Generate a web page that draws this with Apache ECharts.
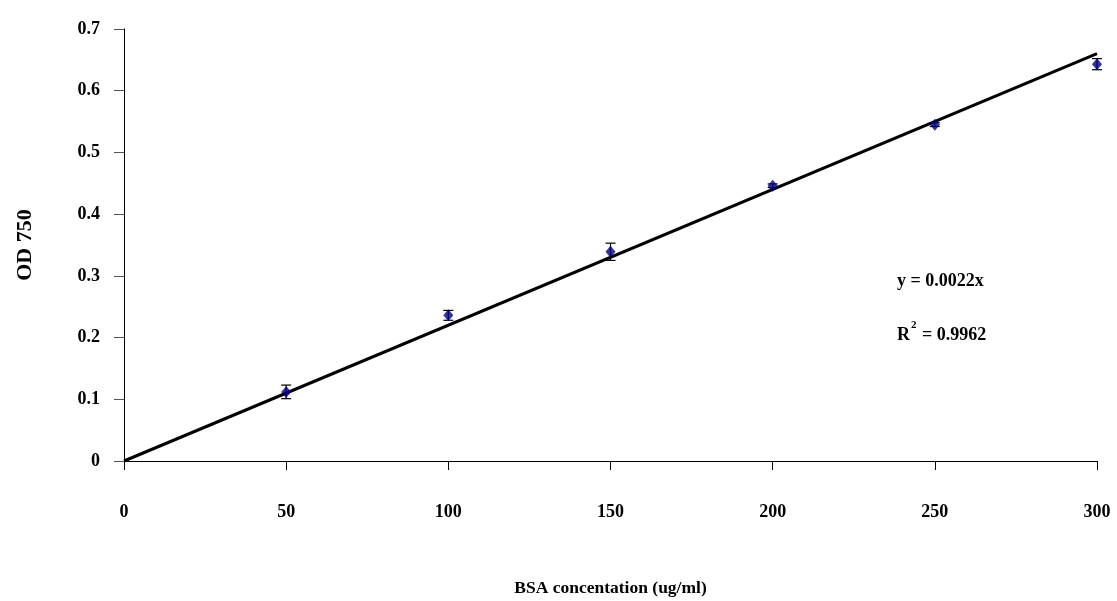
<!DOCTYPE html>
<html>
<head>
<meta charset="utf-8">
<script src="https://cdn.jsdelivr.net/npm/echarts@6/dist/echarts.min.js"></script>
<style>
  html, body { margin: 0; padding: 0; background: #fff; }
  #chart { width: 1117px; height: 601px; }
</style>
</head>
<body>
<div id="chart"></div>
<script>
// BSA standard curve: concentration vs. absorbance at 750 nm
const concentrations = [50, 100, 150, 200, 250, 300];
const odMeans = [0.112, 0.236, 0.339, 0.446, 0.545, 0.643];
const odErrors = [0.011, 0.008, 0.014, 0.003, 0.003, 0.009];
const slope = 0.0022;
const fitRange = [0, 300];
const xTicks = [0, 50, 100, 150, 200, 250, 300];
const yTicks = [0, 0.1, 0.2, 0.3, 0.4, 0.5, 0.6, 0.7];

const FONT = '"Liberation Serif", "Times New Roman", serif';
const FS = 18;

const points = concentrations.map((c, i) => [c, odMeans[i]]);
const errorData = concentrations.map((c, i) => [c, odMeans[i] - odErrors[i], odMeans[i] + odErrors[i]]);
const fitLine = fitRange.map(x => [x, slope * x]);

const chart = echarts.init(document.getElementById('chart'), null, { renderer: 'canvas' });

chart.setOption({
  backgroundColor: '#ffffff',
  animation: false,
  grid: { left: 124, right: 20, top: 29, bottom: 140, containLabel: false, outerBoundsMode: 'none' },
  xAxis: {
    type: 'value',
    min: xTicks[0],
    max: xTicks[xTicks.length - 1],
    interval: 50,
    name: 'BSA concentation (ug/ml)',
    nameLocation: 'middle',
    nameGap: 118,
    nameTextStyle: { fontFamily: FONT, fontWeight: 'bold', fontSize: 17.5, color: '#000' },
    axisLine: { onZero: false, lineStyle: { color: '#000', width: 1 } },
    axisTick: { show: true, inside: false, length: 9, lineStyle: { color: '#000' } },
    axisLabel: { margin: 42, fontFamily: FONT, fontWeight: 'bold', fontSize: FS, color: '#000' },
    splitLine: { show: false }
  },
  yAxis: {
    type: 'value',
    min: yTicks[0],
    max: yTicks[yTicks.length - 1],
    interval: 0.1,
    name: 'OD 750',
    nameLocation: 'middle',
    nameGap: 88,
    nameRotate: 90,
    nameTextStyle: { fontFamily: FONT, fontWeight: 'bold', fontSize: 22, color: '#000' },
    axisLine: { show: true, lineStyle: { color: '#000', width: 1 } },
    axisTick: { show: true, inside: false, length: 10, lineStyle: { color: '#555' } },
    axisLabel: {
      margin: 24, fontFamily: FONT, fontWeight: 'bold', fontSize: FS, color: '#000',
      formatter: v => String(Math.round(v * 10) / 10)
    },
    splitLine: { show: false }
  },
  series: [
    {
      name: 'Linear fit',
      type: 'line',
      data: fitLine,
      symbol: 'none',
      lineStyle: { color: '#000', width: 3 },
      z: 2
    },
    {
      name: 'Error',
      type: 'custom',
      data: errorData,
      z: 3,
      renderItem: function (params, api) {
        const x = api.value(0);
        const lo = api.coord([x, api.value(1)]);
        const hi = api.coord([x, api.value(2)]);
        const cap = 5;
        const style = { stroke: '#000', lineWidth: 1.2, fill: null };
        return {
          type: 'group',
          children: [
            { type: 'line', shape: { x1: lo[0], y1: lo[1], x2: hi[0], y2: hi[1] }, style },
            { type: 'line', shape: { x1: hi[0] - cap, y1: hi[1], x2: hi[0] + cap, y2: hi[1] }, style },
            { type: 'line', shape: { x1: lo[0] - cap, y1: lo[1], x2: lo[0] + cap, y2: lo[1] }, style }
          ]
        };
      }
    },
    {
      name: 'OD 750',
      type: 'scatter',
      data: points,
      symbol: 'diamond',
      symbolSize: [10, 12],
      itemStyle: { color: '#000080' },
      z: 4
    }
  ],
  graphic: [
    {
      type: 'text',
      left: 897,
      top: 272,
      style: {
        text: 'y = 0.0022x',
        font: 'bold ' + FS + 'px ' + FONT,
        fill: '#000'
      }
    },
    {
      type: 'text',
      left: 897,
      top: 320,
      style: {
        text: '{b|R}{s|2}{b| = 0.9962}',
        fill: '#000',
        rich: {
          b: { fontFamily: FONT, fontWeight: 'bold', fontSize: FS, verticalAlign: 'bottom', lineHeight: 24 },
          s: { fontFamily: FONT, fontWeight: 'bold', fontSize: 11, verticalAlign: 'top', lineHeight: 24, padding: [0, 1, 10, 1] }
        }
      }
    }
  ]
});
</script>
</body>
</html>
